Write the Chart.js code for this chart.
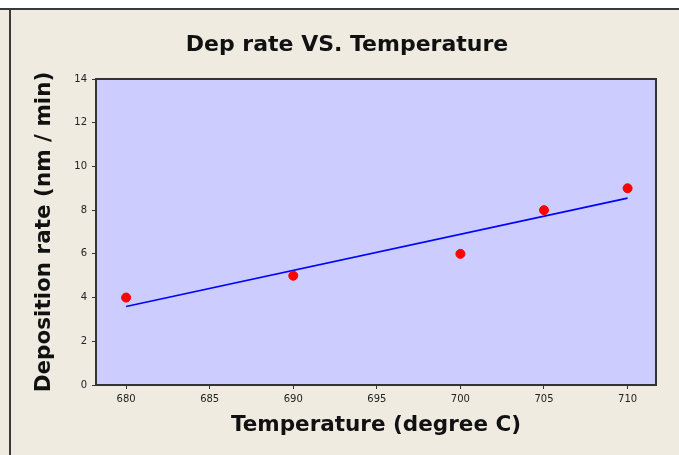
<!DOCTYPE html>
<html>
<head>
<meta charset="utf-8">
<script src="https://cdn.jsdelivr.net/npm/chart.js@4.4.0/dist/chart.umd.min.js"></script>
<style>
  html, body { margin: 0; padding: 0; background: #efebe1; }
  #wrap { width: 679px; height: 455px; }
</style>
</head>
<body>
<div id="wrap"><canvas id="chart" width="679" height="455"></canvas></div>
<script>
const temperatures = [680, 690, 700, 705, 710];
const depRates = [4, 5, 6, 8, 9];
// fitted line at both ends
const fitTemps = [680, 710];
const fitRates = [3.59, 8.55];
const xTicks = [680, 685, 690, 695, 700, 705, 710];
const yTicks = [0, 2, 4, 6, 8, 10, 12, 14];

const titleText = "Dep rate VS. Temperature";

const framePlugin = {
    id: "frame",
    beforeDraw(chart) {
        const ctx = chart.ctx;
        const a = chart.chartArea;
        ctx.save();
        ctx.fillStyle = "#efebe1";
        ctx.fillRect(0, 0, chart.width, chart.height);
        ctx.fillStyle = "#ffffff";
        ctx.fillRect(0, 0, chart.width, 8);
        ctx.fillStyle = "#3a3a3a";
        ctx.fillRect(0, 8, chart.width, 2);
        ctx.fillRect(9, 8, 2, chart.height - 8);
        ctx.fillStyle = "#ccccff";
        ctx.fillRect(a.left, a.top, a.right - a.left, a.bottom - a.top);
        ctx.restore();
    },
    afterDraw(chart) {
        const ctx = chart.ctx;
        const a = chart.chartArea;
        ctx.save();
        ctx.strokeStyle = "#333333";
        ctx.lineWidth = 2;
        ctx.strokeRect(a.left, a.top, a.right - a.left, a.bottom - a.top);
        ctx.fillStyle = "#111111";
        ctx.font = "bold 22px 'DejaVu Sans'";
        ctx.textAlign = "center";
        ctx.textBaseline = "middle";
        ctx.fillText(titleText, 347, 45);
        ctx.restore();
    }
};

const tickFont = { family: "DejaVu Sans", size: 10 };
const axisTitleFont = { family: "DejaVu Sans", size: 21.5, weight: "bold" };

new Chart(document.getElementById("chart"), {
    type: "scatter",
    data: {
        datasets: [{
            label: "Deposition rate",
            data: temperatures.map((t, i) => ({ x: t, y: depRates[i] })),
            backgroundColor: "#ff0000",
            borderColor: "#ff0000",
            pointRadius: 4.5,
            pointHoverRadius: 4.5
        }, {
            label: "Fit",
            data: fitTemps.map((t, i) => ({ x: t, y: fitRates[i] })),
            showLine: true,
            borderColor: "#0000ff",
            borderWidth: 1.6,
            pointRadius: 0,
            fill: false
        }]
    },
    options: {
        responsive: false,
        animation: false,
        layout: { padding: { left: 12, top: 79, right: 23, bottom: 0 } },
        plugins: {
            legend: { display: false },
            tooltip: { enabled: false }
        },
        scales: {
            x: {
                type: "linear",
                min: 678.2,
                max: 711.7,
                afterBuildTicks: s => { s.ticks = xTicks.map(v => ({ value: v })); },
                afterFit: s => { s.height = 70; },
                grid: { drawOnChartArea: false, drawTicks: true, tickLength: 4, color: "#333333" },
                border: { color: "#333333", width: 2 },
                ticks: { font: tickFont, color: "#222222", padding: 4, maxRotation: 0 },
                title: {
                    display: true,
                    text: "Temperature (degree C)",
                    font: axisTitleFont,
                    color: "#111111",
                    padding: { top: 0, bottom: 17 }
                }
            },
            y: {
                min: 0,
                max: 14,
                afterBuildTicks: s => { s.ticks = yTicks.map(v => ({ value: v })); },
                afterFit: s => { s.width = 84; },
                grid: { drawOnChartArea: false, drawTicks: true, tickLength: 4, color: "#333333" },
                border: { color: "#333333", width: 2 },
                ticks: { font: tickFont, color: "#222222", padding: 5 },
                title: {
                    display: true,
                    text: "Deposition rate (nm / min)",
                    font: axisTitleFont,
                    color: "#111111",
                    padding: { top: 20, bottom: 0 }
                }
            }
        }
    },
    plugins: [framePlugin]
});
</script>
</body>
</html>
